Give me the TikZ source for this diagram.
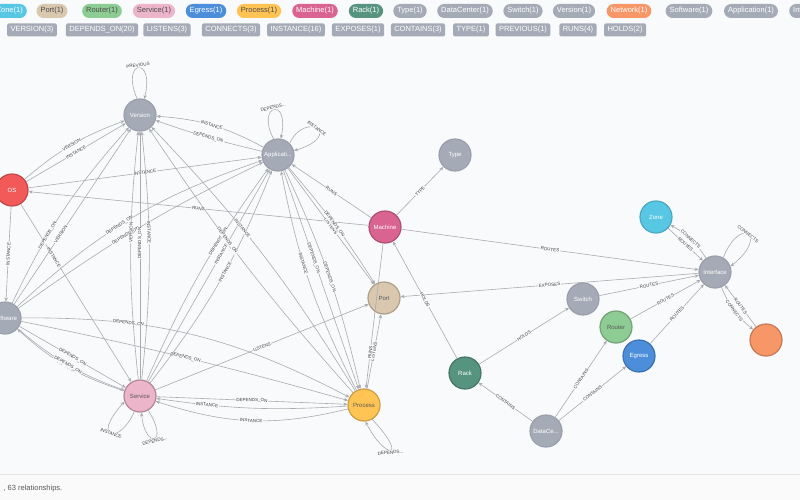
\documentclass[tikz,border=0pt]{standalone}
\usepackage{fontspec}
\setmainfont{Liberation Sans}
\usetikzlibrary{arrows.meta}
\definecolor{bg}{HTML}{F9FAFB}
\definecolor{gr}{HTML}{A5ABB6}
\definecolor{grb}{HTML}{9AA0AB}
\definecolor{ln}{HTML}{A8ABB0}
\definecolor{cos}{HTML}{F25A5A}
\definecolor{cmach}{HTML}{DA6491}
\definecolor{cport}{HTML}{D9C8AE}
\definecolor{crout}{HTML}{8DCC93}
\definecolor{cegr}{HTML}{4C8EDA}
\definecolor{cnet}{HTML}{F79767}
\definecolor{czone}{HTML}{57C7E3}
\definecolor{crack}{HTML}{569480}
\definecolor{cserv}{HTML}{ECB5C9}
\definecolor{cproc}{HTML}{FFC454}
\tikzset{
 gnode/.style={circle,minimum size=32pt,inner sep=0pt,line width=1.2pt,font=\fontsize{6}{7}\selectfont,text=white},
 edge/.style={draw=ln,line width=0.6pt,-{Stealth[length=4pt,width=3.5pt]}},
 lbl/.style={sloped,fill=bg,inner sep=0.6pt,font=\fontsize{4.5}{5}\selectfont,text=black!75},
 pill/.style={rounded corners=7pt,minimum height=14pt,inner xsep=4pt,inner ysep=0pt,font=\fontsize{7.5}{8}\selectfont,text=white},
 tag/.style={rounded corners=1.5pt,fill=gr,minimum height=13pt,inner xsep=3.5pt,inner ysep=0pt,font=\fontsize{7.5}{8}\selectfont,text=white},
}
\begin{document}
\begin{tikzpicture}[x=1pt,y=-1pt]
\fill[bg] (0,0) rectangle (800,500);
\useasboundingbox (0,0) rectangle (800,500);
% legend row 1
\node[pill,fill=czone,anchor=east] (p1) at (27,11) {Zone(1)};
\node[pill,fill=cport,text=black!70] (p2) at (52,11) {Port(1)};
\node[pill,fill=crout,text=black!70] (p3) at (102,11) {Router(1)};
\node[pill,fill=cserv,text=black!70] (p4) at (154,11) {Service(1)};
\node[pill,fill=cegr] (p5) at (206,11) {Egress(1)};
\node[pill,fill=cproc,text=black!70] (p6) at (259,11) {Process(1)};
\node[pill,fill=cmach] (p7) at (315,11) {Machine(1)};
\node[pill,fill=crack] (p8) at (366,11) {Rack(1)};
\node[pill,fill=gr] (p9) at (410,11) {Type(1)};
\node[pill,fill=gr] (p10) at (465,11) {DataCenter(1)};
\node[pill,fill=gr] (p11) at (523,11) {Switch(1)};
\node[pill,fill=gr] (p12) at (574,11) {Version(1)};
\node[pill,fill=cnet] (p13) at (629,11) {Network(1)};
\node[pill,fill=gr] (p14) at (689,11) {Software(1)};
\node[pill,fill=gr] (p15) at (751,11) {Application(1)};
\node[pill,fill=gr,anchor=west] (p16) at (789,11) {Interface(1)};
% legend row 2
\node[tag] (t1) at (32,30) {VERSION(3)};
\node[tag] (t2) at (102,30) {DEPENDS\_ON(20)};
\node[tag] (t3) at (167,30) {LISTENS(3)};
\node[tag] (t4) at (231,30) {CONNECTS(3)};
\node[tag] (t5) at (296,30) {INSTANCE(16)};
\node[tag] (t6) at (358,30) {EXPOSES(1)};
\node[tag] (t7) at (418,30) {CONTAINS(3)};
\node[tag] (t8) at (471,30) {TYPE(1)};
\node[tag] (t9) at (523,30) {PREVIOUS(1)};
\node[tag] (t10) at (578,30) {RUNS(4)};
\node[tag] (t11) at (625,30) {HOLDS(2)};
% nodes
\node[gnode,fill=gr,draw=grb] (ver) at (140,115) {Version};
\node[gnode,fill=gr,draw=grb] (app) at (278,155) {Applicati...};
\node[gnode,fill=cos,draw=cos!80!black] (os) at (12,190) {OS};
\node[gnode,fill=gr,draw=grb] (typ) at (455,155) {Type};
\node[gnode,fill=cmach,draw=cmach!80!black] (mach) at (385,227) {Machine};
\node[gnode,fill=czone,draw=czone!85!black] (zone) at (656,217) {Zone};
\node[gnode,fill=gr,draw=grb] (int) at (715,272) {Interface};
\node[gnode,fill=gr,draw=grb] (soft) at (5,318) {Software};
\node[gnode,fill=cport,draw=cport!80!black,text=black!65] (port) at (384,298) {Port};
\node[gnode,fill=gr,draw=grb] (sw) at (583,299) {Switch};
\node[gnode,fill=crout,draw=crout!80!black,text=black!65] (rout) at (616,327) {Router};
\node[gnode,fill=cegr,draw=cegr!80!black] (egr) at (639,356) {Egress};
\node[gnode,fill=cnet,draw=cnet!80!black] (net) at (766,340) {};
\node[gnode,fill=crack,draw=crack!80!black] (rack) at (465,373) {Rack};
\node[gnode,fill=cserv,draw=cserv!75!black,text=black!65] (serv) at (140,396) {Service};
\node[gnode,fill=cproc,draw=cproc!80!black,text=black!65] (proc) at (364,405) {Process};
\node[gnode,fill=gr,draw=grb] (dc) at (546,431) {DataCe...};
% self loops
\draw[edge] (ver.100) .. controls (120,60) and (155,55) .. node[lbl,above,pos=0.5]{PREVIOUS} (ver.75);
\draw[edge] (app.105) .. controls (255,105) and (290,95) .. node[lbl,pos=0.5,above]{DEPENDS...} (app.80);
\draw[edge] (app.45) .. controls (305,110) and (345,135) .. node[lbl,pos=0.5]{INSTANCE} (app.15);
\draw[edge] (serv.250) .. controls (120,445) and (90,440) .. node[lbl,pos=0.5]{INSTANCE} (serv.200);
\draw[edge] (serv.300) .. controls (170,445) and (145,450) .. node[lbl,pos=0.5,below]{DEPENDS...} (serv.275);
\draw[edge] (proc.300) .. controls (410,460) and (385,460) .. node[lbl,pos=0.5,below]{DEPENDS...} (proc.275);
\draw[edge] (int.60) .. controls (740,215) and (770,235) .. node[lbl,pos=0.5]{CONNECTS} (int.20);
% edges top
\draw[edge] (app) to[bend right=12] node[lbl]{INSTANCE} (ver);
\draw[edge] (app) to[bend left=3] node[lbl]{DEPENDS\_ON} (ver);
\draw[edge] (os) to[bend left=10] node[lbl]{VERSION} (ver);
\draw[edge] (os) to node[lbl]{INSTANCE} (ver);
\draw[edge] (os) to node[lbl]{INSTANCE} (app);
\draw[edge] (mach) to node[lbl]{RUNS} (os);
\draw[edge] (mach) to node[lbl]{RUNS} (app);
\draw[edge] (mach) to node[lbl]{TYPE} (typ);
\draw[edge] (mach) to node[lbl]{ROUTES} (int);
\draw[edge] (app) to node[lbl]{LISTENS} (port);
\draw[edge] (os) to node[lbl]{INSTANCE} (soft);
\draw[edge] (os) to node[lbl,pos=0.3]{INSTANCE} (serv);
% software
\draw[edge] (soft) to node[lbl,pos=0.4]{VERSION} (ver);
\draw[edge] (soft) to[bend left=8] node[lbl,pos=0.35]{DEPENDS\_ON} (ver);
\draw[edge] (soft) to[bend left=5] node[lbl,pos=0.45]{DEPENDS\_ON} (app);
\draw[edge] (soft) to[bend left=12] node[lbl,pos=0.45]{DEPENDS\_ON} (app);
\draw[edge] (soft) to node[lbl]{DEPENDS\_ON} (serv);
\draw[edge] (serv) to[bend left=12] node[lbl]{INSTANCE} (soft);
\draw[edge] (soft) to[bend left=14] node[lbl,pos=0.3]{DEPENDS\_ON} (proc);
\draw[edge] (soft) to[bend left=2] node[lbl,pos=0.5]{DEPENDS\_ON} (proc);
\draw[edge] (soft) to[bend right=10] node[lbl]{DEPENDS\_ON} (serv);
% service
\draw[edge] (serv) to[bend left=6] node[lbl,pos=0.6]{VERSION} (ver);
\draw[edge] (serv) to node[lbl,pos=0.55]{DEPENDS\_ON} (ver);
\draw[edge] (serv) to[bend right=6] node[lbl,pos=0.6]{INSTANCE} (ver);
\draw[edge] (serv) to[bend left=6] node[lbl,pos=0.65]{DEPENDS\_ON} (app);
\draw[edge] (serv) to node[lbl,pos=0.6]{INSTANCE} (app);
\draw[edge] (serv) to[bend right=8] node[lbl,pos=0.55]{INSTANCE} (app);
\draw[edge] (serv) to node[lbl]{LISTENS} (port);
\draw[edge] (serv) to node[lbl]{DEPENDS\_ON} (proc);
\draw[edge] (proc) to[bend left=6] node[lbl,pos=0.75]{INSTANCE} (serv);
\draw[edge] (proc) to[bend left=16] node[lbl]{INSTANCE} (serv);
% process
\draw[edge] (proc) to[bend right=6] node[lbl,pos=0.6]{INSTANCE} (ver);
\draw[edge] (proc) to[bend left=4] node[lbl,pos=0.6]{DEPENDS\_ON} (ver);
\draw[edge] (proc) to[bend left=8] node[lbl,pos=0.6]{INSTANCE} (app);
\draw[edge] (app) to[bend left=6] node[lbl,pos=0.5]{DEPENDS\_ON} (proc);
\draw[edge] (app) to node[lbl,pos=0.4]{DEPENDS\_ON} (proc);
\draw[edge] (app) to[bend left=4] node[lbl,pos=0.5]{DEPENDS\_ON} (port);
\draw[edge] (proc) to node[lbl]{LISTENS} (port);
\draw[edge] (mach) to node[lbl,pos=0.75]{RUNS} (proc);
% right side
\draw[edge] (int) to node[lbl]{EXPOSES} (port);
\draw[edge] (rack) to node[lbl]{HOLDS} (mach);
\draw[edge] (rack) to node[lbl]{HOLDS} (sw);
\draw[edge] (dc) to node[lbl]{CONTAINS} (rack);
\draw[edge] (dc) to node[lbl]{CONTAINS} (rout);
\draw[edge] (dc) to node[lbl]{CONTAINS} (egr);
\draw[edge] (sw) to node[lbl]{ROUTES} (int);
\draw[edge] (rout) to node[lbl]{ROUTES} (int);
\draw[edge] (egr) to node[lbl]{ROUTES} (int);
\draw[edge] (zone) to node[lbl]{ROUTES} (int);
\draw[edge] (int) to[bend right=14] node[lbl]{CONNECTS} (zone);
\draw[edge] (net) to node[lbl]{ROUTES} (int);
\draw[edge] (int) to[bend right=14] node[lbl]{CONNECTS} (net);
% footer
\fill[white!96!gray] (0,474) rectangle (800,500);
\draw[black!10] (0,474) -- (800,474);
\node[anchor=west,font=\fontsize{7.5}{8}\selectfont,text=black!65] (foot) at (0,489) {, 63 relationships.};
\end{tikzpicture}
\end{document}
